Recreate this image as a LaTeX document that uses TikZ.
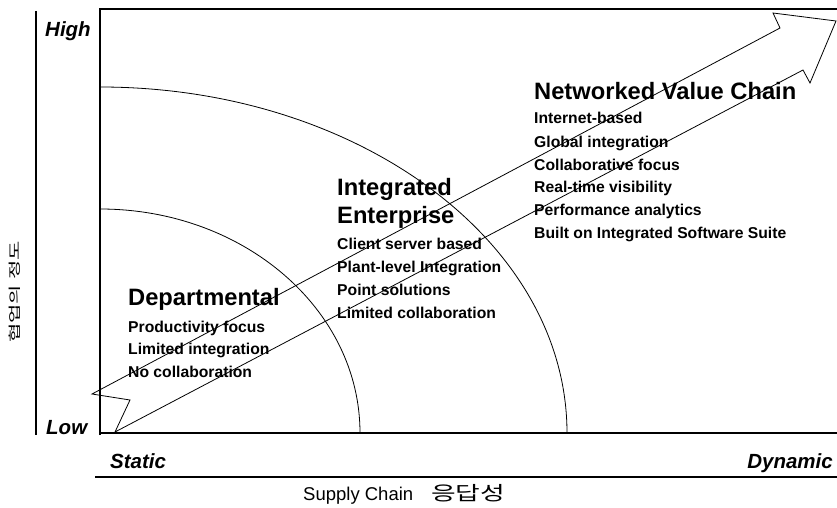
\documentclass[tikz,border=0pt]{standalone}
\usepackage{fontspec}
\setmainfont{Liberation Sans}
\newfontfamily\kr{Noto Sans CJK KR}
\begin{document}
\begin{tikzpicture}[x=1pt,y=-1pt,
  head/.style={anchor=base west,inner sep=0pt,font=\fontsize{23.7}{27}\selectfont\bfseries},
  item/.style={anchor=base west,inner sep=0pt,font=\fontsize{15.7}{18}\selectfont\bfseries},
  axlab/.style={inner sep=0pt,font=\fontsize{20.5}{24}\selectfont\bfseries\itshape},
  thin line/.style={line width=0.8pt},
  axisline/.style={line width=1.2pt}]
\useasboundingbox (0,0) rectangle (837,508);
% frame lines
\draw[axisline] (36,11) -- (36,435);
\draw[axisline] (100,435) -- (100,9) -- (837,9);
\draw[line width=2.4pt] (100,433) -- (837,433);
\draw[line width=1.8pt] (95,477) -- (837,477);
% arcs
\draw[thin line] (360,433) arc[start angle=0,end angle=90,x radius=260pt,y radius=224pt];
\draw[thin line] (567,433) arc[start angle=0,end angle=90,x radius=467pt,y radius=346pt];
% big arrow
\coordinate (t1) at (92,394);
\coordinate (t2) at (130,400);
\coordinate (t3) at (115,432);
\coordinate (h1) at (803,70);
\coordinate (h2) at (810,83);
\coordinate (tip) at (836,21);
\coordinate (h3) at (773,13);
\coordinate (h4) at (780,28);
\draw[thin line,line join=miter] (t1) -- (t2) -- (t3) -- (h1) -- (h2) -- (tip) -- (h3) -- (h4) -- cycle;
% axis labels
\node[axlab,anchor=base west] (high) at (45,37) {High};
\node[axlab,anchor=base west] (low) at (46,434) {Low};
\node[axlab,anchor=base west] (static) at (110,468) {Static};
\node[axlab,anchor=base east] (dynamic) at (833,468) {Dynamic};
\node[inner sep=0pt,anchor=base west,font=\fontsize{18.5}{22}\selectfont] (xlab) at (303,500) {Supply Chain\hspace{18pt}\scalebox{1.45}[1.05]{\kr 응답성}};
\node[inner sep=0pt,rotate=90,font=\kr\fontsize{21}{24}\selectfont] (ylab) at (15,292) {\scalebox{1}[0.6]{협업의 정도}};
% Departmental
\node[head] (d0) at (128,305) {Departmental};
\node[item] (d1) at (128,332) {Productivity focus};
\node[item] (d2) at (128,354.5) {Limited integration};
\node[item] (d3) at (128,377) {No collaboration};
% Integrated Enterprise
\node[head] (i0) at (337,195) {Integrated};
\node[head] (i0b) at (337,223) {Enterprise};
\node[item] (i1) at (337,249) {Client server based};
\node[item] (i2) at (337,272) {Plant-level Integration};
\node[item] (i3) at (337,295) {Point solutions};
\node[item] (i4) at (337,318) {Limited collaboration};
% Networked Value Chain
\node[head] (n0) at (534,100) {Networked Value Chain};
\node[item] (n1) at (534,124) {Internet-based};
\node[item] (n2) at (534,147) {Global integration};
\node[item] (n3) at (534,170) {Collaborative focus};
\node[item] (n4) at (534,192.5) {Real-time visibility};
\node[item] (n5) at (534,215.5) {Performance analytics};
\node[item] (n6) at (534,238) {Built on Integrated Software Suite};
\end{tikzpicture}
\end{document}
